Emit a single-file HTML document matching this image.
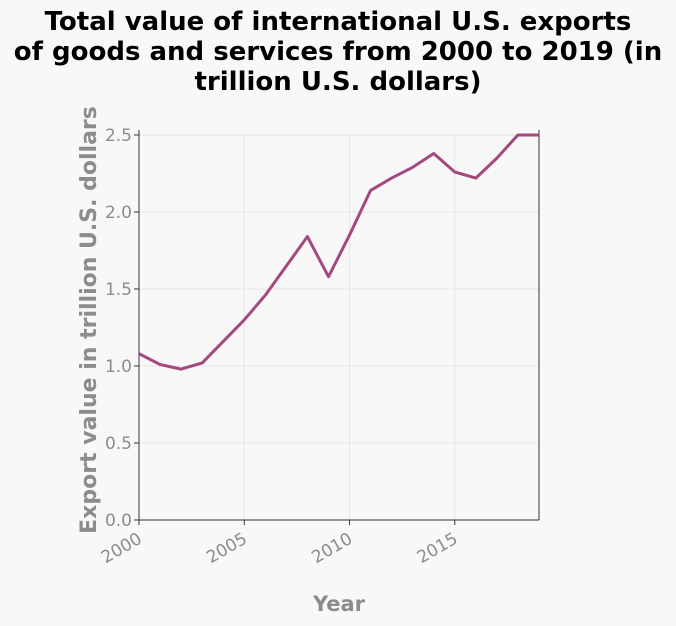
<!DOCTYPE html>
<html><head><meta charset="utf-8"><style>
body{margin:0;background:#f8f8f8;font-family:"DejaVu Sans","Liberation Sans",sans-serif;}
svg{display:block}
</style></head><body>
<svg id="chart" width="676" height="626" font-family="DejaVu Sans, Liberation Sans, sans-serif">
<rect width="676" height="626" fill="#f8f8f8"/>
<text x="338" y="30" text-anchor="middle" font-size="26" font-weight="bold" fill="#000">Total value of international U.S. exports</text>
<text x="338" y="60" text-anchor="middle" font-size="26" font-weight="bold" fill="#000">of goods and services from 2000 to 2019 (in</text>
<text x="338" y="90" text-anchor="middle" font-size="26" font-weight="bold" fill="#000">trillion U.S. dollars)</text>
<g id="grid"></g><g id="axes"></g><g id="series"></g>
<text x="339" y="611" text-anchor="middle" font-size="21" font-weight="bold" fill="#8c8c8c">Year</text>
<text transform="translate(96,320) rotate(-90)" text-anchor="middle" font-size="22" font-weight="bold" fill="#8c8c8c">Export value in trillion U.S. dollars</text>
</svg>
<script>
const years=[2000,2001,2002,2003,2004,2005,2006,2007,2008,2009,2010,2011,2012,2013,2014,2015,2016,2017,2018,2019];
const values=[1.08,1.01,0.98,1.02,1.16,1.30,1.46,1.65,1.84,1.58,1.85,2.14,2.22,2.29,2.38,2.26,2.22,2.35,2.50,2.50];
const xTicks=[2000,2005,2010,2015];
const yTicks=[0,0.5,1.0,1.5,2.0,2.5];
const X0=139,X1=539,Y0=520,Y1=135;
const xs=v=>X0+(v-2000)/19*(X1-X0);
const ys=v=>Y0-v/2.5*(Y0-Y1);
const NS="http://www.w3.org/2000/svg";
function mk(p,t,a){const e=document.createElementNS(NS,t);for(const k in a)e.setAttribute(k,a[k]);p.appendChild(e);return e;}
const grid=document.getElementById('grid'),axes=document.getElementById('axes'),series=document.getElementById('series');
yTicks.forEach(v=>{
 const l=mk(grid,'line',{x1:X0,x2:X1,y1:ys(v),y2:ys(v),stroke:'#e6e6e6','stroke-width':1});
 
 
 const tk=mk(axes,'line',{x1:X0-5,x2:X0,y1:ys(v),y2:ys(v),stroke:'#333'});
 
 
 const t=mk(axes,'text',{x:X0-7,y:ys(v)+6,'text-anchor':'end','font-size':17,fill:'#8c8c8c'});
 t.textContent=v.toFixed(1);
 
 
});
xTicks.forEach(v=>{
 const l=mk(grid,'line',{x1:xs(v),x2:xs(v),y1:Y1,y2:Y0,stroke:'#e6e6e6','stroke-width':1});
 
 
 const tk=mk(axes,'line',{x1:xs(v),x2:xs(v),y1:Y0,y2:Y0+5,stroke:'#333'});
 
 
 const t=mk(axes,'text',{x:xs(v)+4,y:Y0+22,'text-anchor':'end','font-size':17,fill:'#8c8c8c',transform:`rotate(-30 ${xs(v)+4} ${Y0+22})`});
 t.textContent=v;
 
 
});
const ax=mk(axes,'path',{d:`M${X0} ${Y1-5}V${Y0}H${X1}`,fill:'none',stroke:'#333','stroke-width':1});


const rb=mk(axes,'line',{x1:X1,x2:X1,y1:Y1-5,y2:Y0,stroke:'#333'});


const d=years.map((y,i)=>(i?'L':'M')+xs(y).toFixed(1)+' '+ys(values[i]).toFixed(1)).join('');
const p=mk(series,'path',{d:d,fill:'none',stroke:'#a3497f','stroke-width':3,'stroke-linejoin':'round'});


</script>
</body></html>
